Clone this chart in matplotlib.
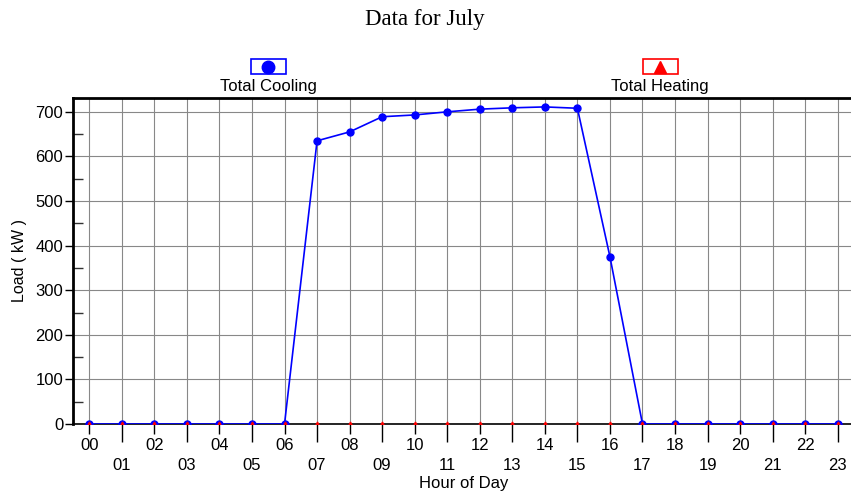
import matplotlib.pyplot as plt
from matplotlib.patches import Rectangle
from matplotlib.lines import Line2D

hours = list(range(24))
hour_labels = ['%02d' % h for h in hours]
cooling = [0, 0, 0, 0, 0, 0, 0, 635, 655, 689, 693, 700, 706, 709, 711, 708,
           375, 0, 0, 0, 0, 0, 0, 0]
heating = [0] * 24

W, H = 851, 495
fig = plt.figure(figsize=(W / 100, H / 100), dpi=100)
ax = fig.add_axes([73 / W, 1 - 424 / H, (854 - 73) / W, (424 - 98) / H])

ax.plot(hours, cooling, color='#0000ff', lw=1.2, marker='o', ms=5, zorder=3)
ax.plot(hours, heating, color='#ff0000', lw=1.0, marker='^', ms=3.5, ls='none', zorder=4)

ax.set_xlim(-0.5, 23.5)
ax.set_ylim(0, 731)
ax.set_xticks(hours)
labels = [lab if h % 2 == 0 else '\n' + lab for h, lab in zip(hours, hour_labels)]
ax.set_xticklabels(labels, fontsize=12, family='Liberation Sans', linespacing=1.45)
ax.set_yticks(range(0, 701, 100))
ax.set_yticklabels([str(v) for v in range(0, 701, 100)], fontsize=12, family='Liberation Sans')
ax.set_yticks(range(50, 701, 100), minor=True)
ax.tick_params(axis='y', which='major', direction='out', length=6, width=1.0, pad=1)
ax.tick_params(axis='y', which='minor', direction='in', length=7, width=1.0, color='#333333')
ax.tick_params(axis='x', direction='out', length=7, width=1.0, pad=3)
for i, t in enumerate(ax.xaxis.get_major_ticks()):
    if i % 2 == 1:
        t.tick1line.set_markersize(13)

ax.grid(True, which='major', color='#888888', lw=0.8)
ax.set_axisbelow(True)
for s in ['left', 'top']:
    ax.spines[s].set_linewidth(2)
ax.spines['bottom'].set_linewidth(1.2)
ax.spines['right'].set_visible(False)

ax.set_xlabel('Hour of Day', fontsize=12, family='Liberation Sans', labelpad=2)
ax.set_ylabel('Load ( kW )', fontsize=11.5, family='Liberation Sans', labelpad=6)

fig.text(425 / W, 1 - 20 / H, 'Data for July', ha='center', va='center',
         fontsize=16.5, family='Liberation Serif')

# legend boxes above the plot
for cx, name, col, mk in [(268, 'Total Cooling', '#0000ff', 'o'),
                          (660, 'Total Heating', '#ff0000', '^')]:
    fig.patches.append(Rectangle(((cx - 17) / W, 1 - 74 / H), 35 / W, 15 / H,
                                 transform=fig.transFigure, fill=False, ec=col, lw=1.2))
    fig.lines.append(Line2D([cx / W], [1 - 66.5 / H], transform=fig.transFigure,
                            marker=mk, color=col, ms=9, ls='none'))
    fig.text(cx / W, 1 - 87 / H, name, ha='center', va='center', fontsize=12,
             family='Liberation Sans')

plt.savefig('out.png', dpi=100)
